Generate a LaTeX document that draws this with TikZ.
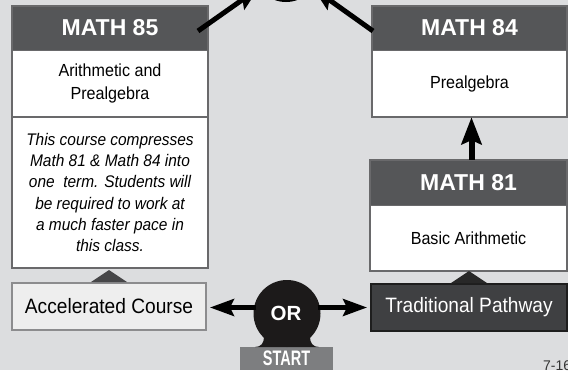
\documentclass[tikz,border=0pt]{standalone}
\usepackage{fontspec}
\setmainfont{Liberation Sans}
\newfontfamily\condfont{Liberation Sans}[FakeStretch=0.69]
\newfontfamily\narrowfont{Liberation Sans}[FakeStretch=0.92]
\usetikzlibrary{arrows.meta}
\definecolor{bg}{RGB}{220,221,223}
\definecolor{hdr}{RGB}{85,86,88}
\definecolor{bord}{RGB}{105,105,107}
\definecolor{accfill}{RGB}{238,238,238}
\definecolor{accbord}{RGB}{140,140,142}
\definecolor{tradfill}{RGB}{63,64,66}
\definecolor{tradbord}{RGB}{30,30,30}
\definecolor{orfill}{RGB}{28,26,26}
\definecolor{startfill}{RGB}{125,126,128}
\definecolor{tri}{RGB}{70,70,72}
\definecolor{tridark}{RGB}{40,40,40}
\begin{document}
\begin{tikzpicture}[x=1pt,y=-1pt,
  hdrbox/.style={rectangle, fill=hdr, text=white, font=\fontsize{23}{26}\selectfont\bfseries, minimum height=44pt, inner sep=0pt},
  bodybox/.style={rectangle, fill=white, font=\narrowfont\fontsize{17.5}{23.5}\selectfont, align=center, inner sep=0pt},
  notebox/.style={rectangle, fill=white, font=\narrowfont\fontsize{16.8}{21.3}\selectfont\itshape, align=center, inner sep=0pt},
  outline/.style={draw=bord, line width=1.5pt},
  sep/.style={draw=bord, line width=1pt},
  sepdark/.style={draw=bord, line width=2pt},
  pathbox/.style={rectangle, font=\narrowfont\fontsize{20.8}{23}\selectfont, minimum height=47pt, inner sep=0pt, line width=2pt},
  arr/.style={line width=5pt, -{Stealth[length=24pt,width=18pt,inset=4pt]}},
  arrthin/.style={line width=4.5pt, -{Stealth[length=24pt,width=17pt,inset=4pt]}},
  arrup/.style={line width=6pt, -{Stealth[length=27pt,width=20pt,inset=4pt]}}
]
\path[use as bounding box, clip] (0,0) rectangle (568,370);
\fill[bg] (0,0) rectangle (568,370);

% top circle (mostly outside)
\node[circle, fill=black, minimum size=66pt, inner sep=0pt] (fin) at (286,-31) {};

% MATH 85 column
\node[hdrbox, minimum width=196pt] (h85) at (110,28) {MATH 85};
\node[bodybox, minimum width=196pt, minimum height=67pt] (d85) at (110,83.5) {Arithmetic and\\Prealgebra};
\node[notebox, minimum width=196pt, minimum height=151pt] (n85) at (110,192.5) {This course compresses\\Math 81 \& Math 84 into\\one\ \ term. Students will\\be required to work at\\a much faster pace in\\this class.};
\draw[sep] (h85.south west) -- (h85.south east);
\draw[sepdark] (d85.south west) -- (d85.south east);
\draw[outline] (h85.north west) rectangle (n85.south east);

% MATH 84
\node[hdrbox, minimum width=195pt] (h84) at (469.5,28) {MATH 84};
\node[bodybox, minimum width=195pt, minimum height=67pt] (d84) at (469.5,83.5) {Prealgebra};
\draw[sep] (h84.south west) -- (h84.south east);
\draw[outline] (h84.north west) rectangle (d84.south east);

% MATH 81
\node[hdrbox, minimum width=197pt, minimum height=45pt] (h81) at (468.5,182.5) {MATH 81};
\node[bodybox, minimum width=197pt, minimum height=66pt] (d81) at (468.5,238) {Basic Arithmetic};
\draw[sep] (h81.south west) -- (h81.south east);
\draw[outline] (h81.north west) rectangle (d81.south east);

% pathway boxes
\node[pathbox, fill=accfill, draw=accbord, minimum width=194pt] (acc) at (109,306.5) {Accelerated Course};
\node[pathbox, fill=tradfill, draw=tradbord, text=white, minimum width=196pt] (trad) at (469,307.5) {Traditional Pathway};
\fill[tri] ([xshift=-18pt]acc.north) -- ([yshift=12pt]acc.north) -- ([xshift=18pt]acc.north) -- cycle;
\fill[tridark] ([xshift=-18pt]trad.north) -- ([yshift=12pt]trad.north) -- ([xshift=18pt]trad.north) -- cycle;

% OR and START
\node[rectangle, fill=startfill, minimum width=93pt, minimum height=23pt, inner sep=0pt, text=white, font=\condfont\fontsize{21}{21}\selectfont\bfseries] (start) at (286.5,358.5) {\raisebox{-2.5pt}{START}};
\fill[orfill] (264,337) .. controls (264,343) and (261,347) .. (255,347) -- (319,347) .. controls (313,347) and (310,343) .. (310,337) -- cycle;
\node[circle, fill=orfill, minimum size=67pt, inner sep=0pt, text=white, font=\fontsize{20.5}{20}\selectfont\bfseries] (or) at (287,313.5) {\hspace*{-2pt}\raisebox{0.5pt}{OR}};

% arrows
\coordinate (s85) at (198,31);
\coordinate (s84) at (373,31);
\draw[arr] (s85) -- (fin);
\draw[arr] (s84) -- (fin);
\draw[arrup] ([xshift=3pt]h81.north) -- ([xshift=3pt]h81.north |- d84.south);
\draw[arrthin] ([xshift=3pt,yshift=6pt]or.west) -- ([xshift=3pt,yshift=6pt]or.west -| acc.east);
\draw[arrthin] ([xshift=-3pt,yshift=6pt]or.east) -- ([xshift=-3pt,yshift=6pt]or.east -| trad.west);

% page number
\node[anchor=north west, inner sep=0pt, font=\fontsize{14}{14}\selectfont, text=black!80] (pg) at (543,361) {7-16};
\end{tikzpicture}
\end{document}
